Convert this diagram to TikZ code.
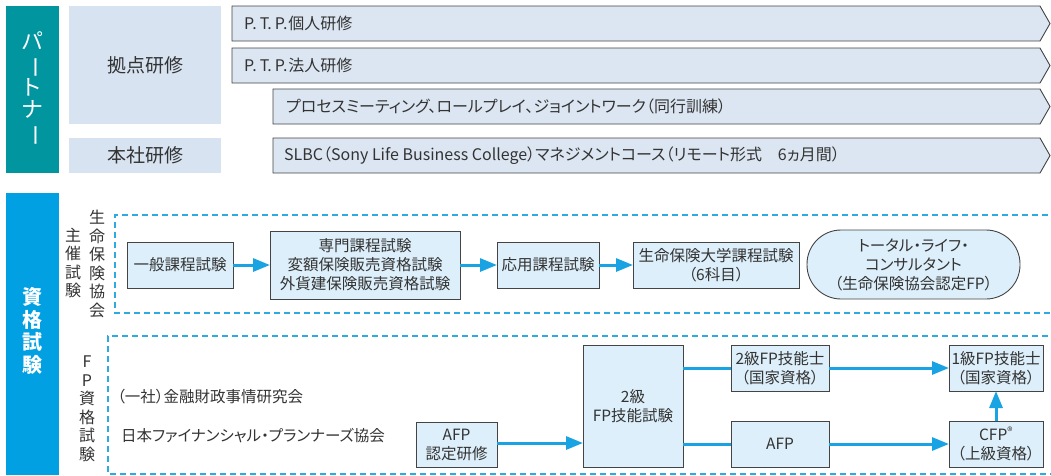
\documentclass[tikz,border=0pt]{standalone}
\usepackage{fontspec}
\setmainfont[RawFeature=+palt]{Noto Sans CJK JP}
\usetikzlibrary{arrows.meta}
\definecolor{tealbox}{HTML}{00959F}
\definecolor{bluebox}{HTML}{00A0E2}
\definecolor{paleblue}{HTML}{D7E3F1}
\definecolor{bannerfill}{HTML}{DCE6F2}
\definecolor{boxfill}{HTML}{DDEFFA}
\definecolor{txt}{HTML}{333333}
\definecolor{edge}{HTML}{444444}
\definecolor{arrowblue}{HTML}{1AA3E3}
\definecolor{dashblue}{HTML}{2FAAE1}
\tikzset{
  bigtxt/.style={font=\fontsize{19}{22}\selectfont, text=txt},
  bantxt/.style={font=\fontsize{16}{19}\selectfont, text=txt, anchor=west, inner sep=0pt},
  smalltxt/.style={font=\fontsize{15.5}{19}\selectfont, text=txt},
  flowbox/.style={draw=edge, line width=0.9pt, fill=boxfill, inner sep=0pt, outer sep=0pt,
     align=center, smalltxt},
  flowarrow/.style={draw=arrowblue, line width=3pt, -{Triangle[length=17pt,width=13pt]}},
  flowline/.style={draw=arrowblue, line width=3pt},
  dashframe/.style={draw=dashblue, line width=1.4pt, dash pattern=on 6pt off 4pt},
  banner/.style={draw=edge, line width=0.9pt, fill=bannerfill},
  vtext/.style={align=center, font=\fontsize{16}{18.5}\selectfont, text=txt, inner sep=0pt},
}
\begin{document}
\begin{tikzpicture}[x=1pt,y=-1pt]
\useasboundingbox (0,0) rectangle (1051,475);
% ---- top section ----
\fill[tealbox] (6,6) rectangle (59,173);
\node[align=center, text=white, inner sep=0pt, font=\fontsize{22}{22}\selectfont] (partner) at (32.5,89)
  {パ\\\rotatebox[origin=c]{-90}{ー}\\ト\\ナ\\\rotatebox[origin=c]{-90}{ー}};
\fill[paleblue] (69,6) rectangle (221,124);
\node[bigtxt] (kyoten) at (145,65) {拠点研修};
\fill[paleblue] (69,138) rectangle (221,173);
\node[bigtxt] (honsha) at (145,155.5) {本社研修};
% banners
\path[banner] (232,6) -- (1040,6) -- (1050,23.5) -- (1040,41) -- (232,41) -- cycle;
\node[bantxt] (ptp1) at (244,23.5) {P.\hspace{3pt}T.\hspace{3pt}P.\hspace{1pt}個人研修};
\path[banner] (232,48) -- (1040,48) -- (1050,65.5) -- (1040,83) -- (232,83) -- cycle;
\node[bantxt] (ptp2) at (244,65.5) {P.\hspace{3pt}T.\hspace{3pt}P.\hspace{1pt}法人研修};
\path[banner] (273,89) -- (1040,89) -- (1050,106.5) -- (1040,124) -- (273,124) -- cycle;
\node[bantxt] (process) at (286,106.5) {プロセスミーティング、ロールプレイ、ジョイントワーク（同行訓練）};
\path[banner] (273,138) -- (1040,138) -- (1050,155.5) -- (1040,173) -- (273,173) -- cycle;
\node[bantxt] (slbc) at (284,155.5) {SLBC（Sony Life Business College）マネジメントコース（リモート形式\quad 6ヵ月間）};
% ---- bottom section ----
\fill[bluebox] (6,193) rectangle (59,475);
\node[align=center, text=white, inner sep=0pt, font=\fontsize{20}{22.5}\selectfont\bfseries] (shikaku) at (32.5,331)
  {資\\格\\試\\験};
\node[vtext] (shusai) at (73,263) {主\\催\\試\\験};
\node[vtext] (seiho) at (97,264) {生\\命\\保\\険\\協\\会};
\draw[dashframe] (1058,215) -- (115,215) -- (115,313) -- (1058,313);
\node[flowbox, minimum width=106pt, minimum height=46pt] (ippan) at (180,265) {一般課程試験};
\node[flowbox, minimum width=190pt, minimum height=68pt] (senmon) at (365,265) {専門課程試験\\変額保険販売資格試験\\外貨建保険販売資格試験};
\node[flowbox, minimum width=102pt, minimum height=46pt] (ouyou) at (548,265) {応用課程試験};
\node[flowbox, minimum width=166pt, minimum height=46pt] (daigaku) at (716,265) {生命保険大学課程試験\\（6科目）};
\node[flowbox, minimum width=213pt, minimum height=69pt, rounded corners=34pt] (total) at (913.5,264.5) {トータル・ライフ・\\コンサルタント\\（生命保険協会認定FP）};
\draw[flowarrow] (ippan) -- (senmon);
\draw[flowarrow] (senmon) -- (ouyou);
\draw[flowarrow] (ouyou) -- (daigaku);
% FP
\node[vtext] (fpshikaku) at (87,409) {F\\P\\資\\格\\試\\験};
\draw[dashframe] (1058,336) -- (108,336) -- (108,474) -- (1058,474);
\node[smalltxt, anchor=west, inner sep=0pt] (kinzai) at (117,397) {（一社）金融財政事情研究会};
\node[smalltxt, anchor=west, inner sep=0pt] (jafp) at (121,436) {日本ファイナンシャル・プランナーズ協会};
\node[flowbox, minimum width=81pt, minimum height=45pt] (afpken) at (456.5,444.5) {AFP\\認定研修};
\node[flowbox, minimum width=100pt, minimum height=122pt] (fp2exam) at (633,406) {2級\\FP技能試験};
\node[flowbox, minimum width=98pt, minimum height=46pt] (fp2) at (780,368) {2級FP技能士\\（国家資格）};
\node[flowbox, minimum width=98pt, minimum height=46pt] (afp) at (780,444) {AFP};
\node[flowbox, minimum width=94pt, minimum height=46pt] (fp1) at (996,368) {1級FP技能士\\（国家資格）};
\node[flowbox, minimum width=94pt, minimum height=46pt] (cfp) at (996,444) {CFP\textsuperscript{®}\\（上級資格）};
\draw[flowarrow] (afpken.east |- 0,443) -- (fp2exam.west |- 0,443);
\draw[flowline] (fp2exam.east |- fp2.west) -- (fp2.west);
\draw[flowline] (fp2exam.east |- afp.west) -- (afp.west);
\draw[flowarrow] (fp2) -- (fp1);
\draw[flowarrow] (afp) -- (cfp);
\draw[flowarrow] (cfp) -- (fp1);
\end{tikzpicture}
\end{document}
